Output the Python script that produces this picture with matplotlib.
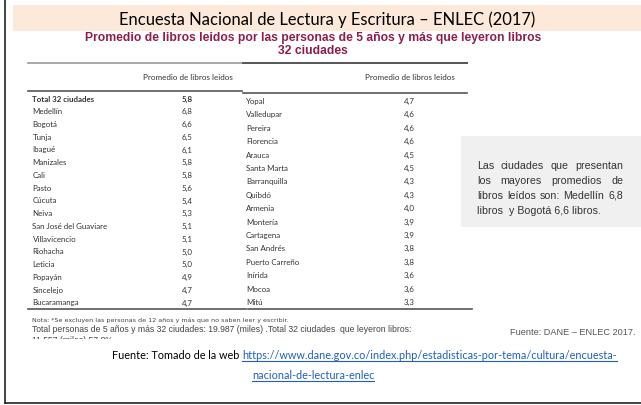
import matplotlib
matplotlib.use("Agg")
import matplotlib.pyplot as plt
from matplotlib.patches import Rectangle
from matplotlib.transforms import Bbox

# data
title = "Encuesta Nacional de Lectura y Escritura – ENLEC (2017)"
subtitle1 = "Promedio de libros leidos por las personas de 5 años y más que leyeron libros"
subtitle2 = "32 ciudades"
col_header = "Promedio de libros leidos"

left_cities = ["Total 32 ciudades", "Medellín", "Bogotá", "Tunja", "Ibagué", "Manizales",
               "Cali", "Pasto", "Cúcuta", "Neiva", "San José del Guaviare", "Villavicencio",
               "Riohacha", "Leticia", "Popayán", "Sincelejo", "Bucaramanga"]
left_values = ["5,8", "6,8", "6,6", "6,5", "6,1", "5,8", "5,8", "5,6", "5,4", "5,3",
               "5,1", "5,1", "5,0", "5,0", "4,9", "4,7", "4,7"]

right_cities = ["Yopal", "Valledupar", "Pereira", "Florencia", "Arauca", "Santa Marta",
                "Barranquilla", "Quibdó", "Armenia", "Montería", "Cartagena", "San Andrés",
                "Puerto Carreño", "Inírida", "Mocoa", "Mitú"]
right_values = ["4,7", "4,6", "4,6", "4,6", "4,5", "4,5", "4,3", "4,3", "4,0", "3,9",
                "3,9", "3,8", "3,8", "3,6", "3,6", "3,3"]

note1 = "Nota: *Se excluyen las personas de 12 años y más que no saben leer y escribir."
note2 = "Total personas de 5 años y más 32 ciudades: 19.987 (miles) .Total 32 ciudades  que leyeron libros:"
note3 = "11.557 (miles) 57,8%"
source_dane = "Fuente: DANE – ENLEC 2017."
box_lines = ["Las ciudades que presentan", "los mayores promedios de",
             "libros leídos son: Medellín 6,8", "libros  y Bogotá 6,6 libros."]
source_prefix = "Fuente: Tomado de la web "
url1 = "https://www.dane.gov.co/index.php/estadisticas-por-tema/cultura/encuesta-"
url2 = "nacional-de-lectura-enlec"

W, H = 641, 406
fig = plt.figure(figsize=(W / 100, H / 100), dpi=100)
ax = fig.add_axes([0, 0, 1, 1])
ax.set_xlim(0, W)
ax.set_ylim(H, 0)
ax.axis("off")

calib = "Lato"
arial = "Liberation Sans"
txt = "#333333"
fs_row = 5.7

# frame
ax.plot([4.5, 4.5], [0, 403.5], color="#222222", lw=1.2)
ax.plot([4.5, W], [403.5, 403.5], color="#222222", lw=1.2)

# title band
ax.add_patch(Rectangle((13, 6), W - 13, 26, color="#FDE9DA", lw=0))
ax.text(327, 20, title, fontsize=11.9, family=calib, ha="center", va="center", color="black")
ax.text(313, 38, subtitle1, fontsize=8.7, family=arial, weight="bold", ha="center",
        va="center", color="#8E1C50")
ax.text(313, 51, subtitle2, fontsize=8.7, family=arial, weight="bold", ha="center",
        va="center", color="#8E1C50")

# left table
ax.plot([28, 242], [64, 64], color="#9a9a9a", lw=1.2)
ax.plot([28, 242], [91.5, 91.5], color="#555555", lw=1.2)
ax.plot([28, 246], [309.5, 309.5], color="#555555", lw=1.2)
ax.text(188, 77.5, col_header, fontsize=5.8, family=calib, ha="center", va="center", color=txt)
for i, (c, v) in enumerate(zip(left_cities, left_values)):
    y = 99 + i * 12.75
    w = "bold" if i == 0 else "normal"
    ax.text(32.5, y, c, fontsize=fs_row, family=calib, weight=w, ha="left", va="center", color=txt)
    ax.text(187, y, v, fontsize=fs_row, family=calib, weight=w, ha="center", va="center", color=txt)

# right table
ax.plot([243, 467], [63.5, 63.5], color="#555555", lw=1.4)
ax.plot([243, 467], [93.5, 93.5], color="#555555", lw=1.2)
ax.plot([248, 472], [309.5, 309.5], color="#555555", lw=1.2)
ax.text(410, 77, col_header, fontsize=5.8, family=calib, ha="center", va="center", color=txt)
for i, (c, v) in enumerate(zip(right_cities, right_values)):
    y = 101.5 + i * 13.4
    ax.text(246, y, c, fontsize=fs_row, family=calib, ha="left", va="center", color=txt)
    ax.text(409, y, v, fontsize=fs_row, family=calib, ha="center", va="center", color=txt)

# notes
ax.text(32, 320, note1, fontsize=4.6, family="Liberation Sans Narrow", ha="left",
        va="center", color="#444444")
ax.text(32, 330, note2, fontsize=6.2, family=arial, ha="left", va="center", color="#444444")
# third line is cut off in the original picture
t3 = ax.text(32, 340.5, note3, fontsize=6.2, family=arial, ha="left", va="center",
             color="#444444")
t3.set_clip_on(True)
t3.set_clip_box(Bbox.from_extents(0, H - 339.5, W, H))
ax.text(636, 333, source_dane, fontsize=6.6, family=arial, ha="right", va="center",
        color="#555555")

# grey comment box with justified text
ax.add_patch(Rectangle((461, 137), W - 461, 91, color="#F0F0F0", lw=0))
fig.canvas.draw()
rend = fig.canvas.get_renderer()
inv = ax.transData.inverted()
x0, x1 = 477, 623
fs_box = 7.7
for j, line in enumerate(box_lines):
    y = 166 + j * 15
    words = line.split()
    if j == len(box_lines) - 1:
        ax.text(x0, y, line, fontsize=fs_box, family=arial, ha="left", va="center", color="#333333")
        continue
    arts = [ax.text(0, y, wd, fontsize=fs_box, family=arial, ha="left", va="center",
                    color="#333333") for wd in words]
    widths = []
    for a in arts:
        bb = a.get_window_extent(rend)
        p0 = inv.transform((bb.x0, bb.y0))
        p1 = inv.transform((bb.x1, bb.y0))
        widths.append(p1[0] - p0[0])
    gap = (x1 - x0 - sum(widths)) / (len(words) - 1)
    x = x0
    for a, wdt in zip(arts, widths):
        a.set_x(x)
        x += wdt + gap

# source line with link
fs_src = 7.8
t = ax.text(112, 356, source_prefix, fontsize=fs_src, family=calib, ha="left", va="center",
            color="black")
fig.canvas.draw()
bb = t.get_window_extent(rend)
xl = inv.transform((bb.x1, bb.y0))[0]
u1 = ax.text(xl, 356, url1, fontsize=fs_src, family=calib, ha="left", va="center", color="#1F5FC0")
bb1 = u1.get_window_extent(rend)
ux1 = inv.transform((bb1.x1, bb1.y0))[0]
ax.plot([xl, ux1], [362, 362], color="#1F5FC0", lw=0.8)
u2 = ax.text(313, 376, url2, fontsize=fs_src, family=calib, ha="center", va="center", color="#1F5FC0")
bb2 = u2.get_window_extent(rend)
ux0 = inv.transform((bb2.x0, bb2.y0))[0]
ux2 = inv.transform((bb2.x1, bb2.y0))[0]
ax.plot([ux0, ux2], [382, 382], color="#1F5FC0", lw=0.8)

fig.savefig("out.png", dpi=100)
